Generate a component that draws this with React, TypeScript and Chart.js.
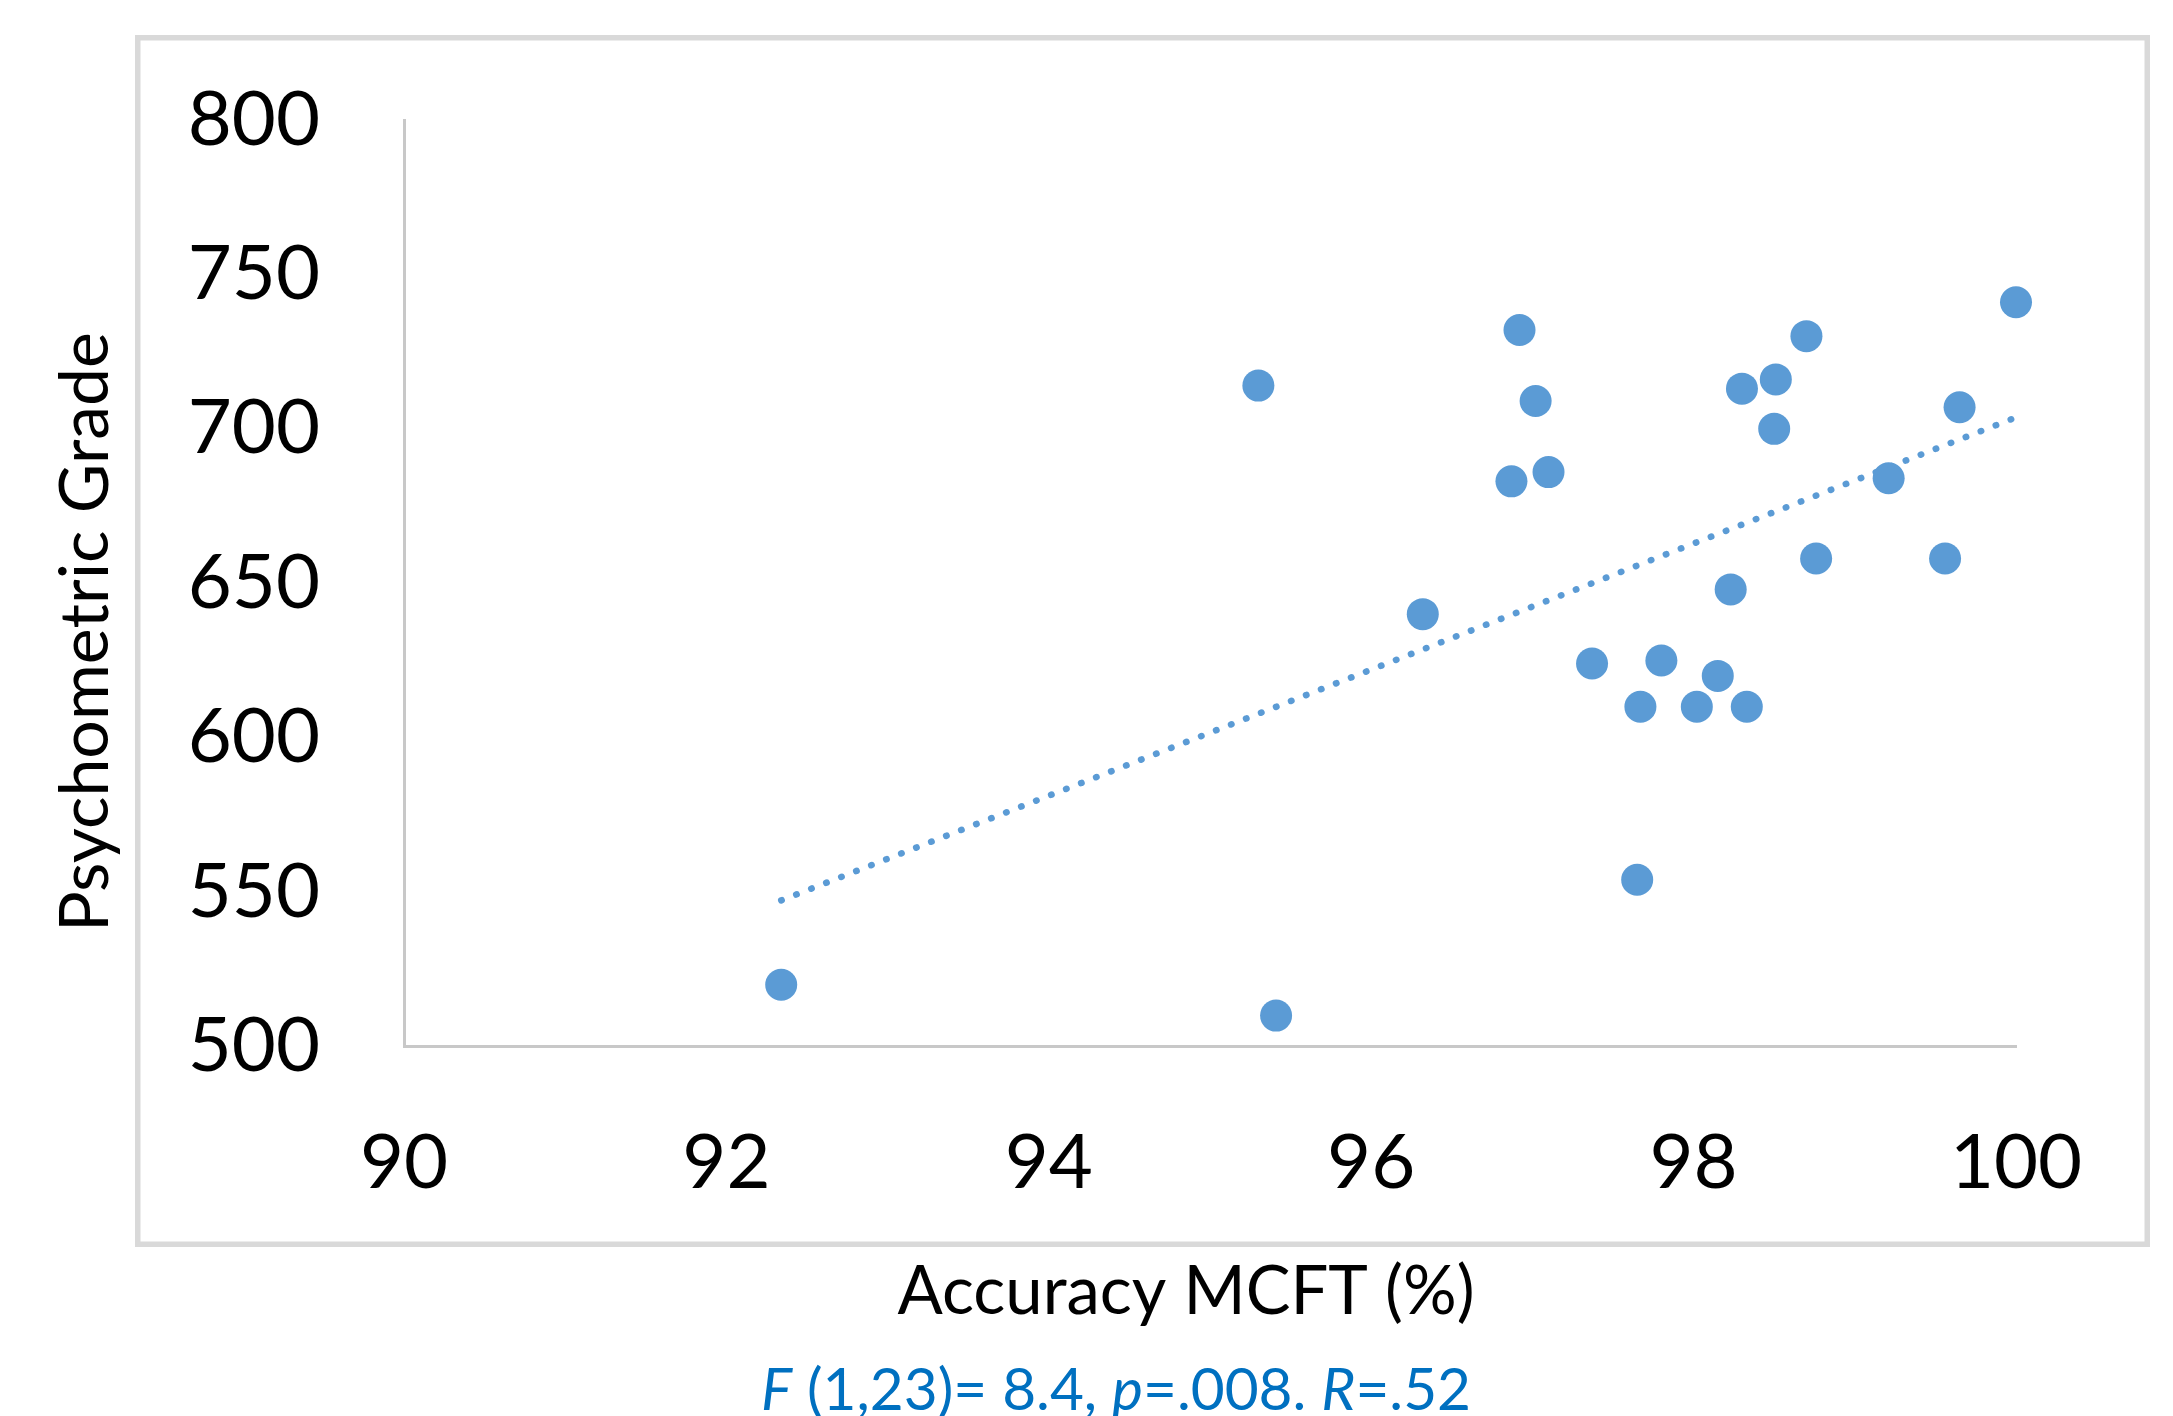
import { useEffect, useRef } from "react";
import { Chart, registerables } from "chart.js";

Chart.register(...registerables);

// ---- data ----
const accuracy = [
  92.34, 95.41, 95.3, 96.32, 96.92, 97.02, 96.87, 97.1, 97.37, 97.67, 97.65, 97.8, 98.02,
  98.15, 98.33, 98.23, 98.3, 98.51, 98.5, 98.7, 98.76, 99.21, 99.56, 99.65, 100.0,
];
const grade = [
  520, 510, 714, 640, 732, 709, 683, 686, 624, 610, 554, 625, 610,
  620, 610, 648, 713, 716, 700, 730, 658, 684, 658, 707, 741,
];
const xTicks = [90, 92, 94, 96, 98, 100];
const yTicks = [500, 550, 600, 650, 700, 750, 800];
const xTitle = "Accuracy MCFT (%)";
const yTitle = "Psychometric Grade";
const statParts: [string, boolean][] = [
  ["F", true],
  [" (1,23)= 8.4, ", false],
  ["p", true],
  ["=.008. ", false],
  ["R", true],
  ["=.52", false],
];

// least-squares trendline derived from the data
function trend() {
  const n = accuracy.length;
  const mx = accuracy.reduce((a, b) => a + b, 0) / n;
  const my = grade.reduce((a, b) => a + b, 0) / n;
  let sxy = 0;
  let sxx = 0;
  for (let i = 0; i < n; i++) {
    sxy += (accuracy[i] - mx) * (grade[i] - my);
    sxx += (accuracy[i] - mx) ** 2;
  }
  const slope = sxy / sxx;
  const x0 = Math.min(...accuracy);
  const x1 = Math.max(...accuracy);
  return [
    { x: x0, y: my + slope * (x0 - mx) },
    { x: x1, y: my + slope * (x1 - mx) },
  ];
}

const BLUE = "#5B9BD5";
const FONT = "Lato";

const decor = {
  id: "decor",
  beforeDraw(chart: any) {
    const ctx = chart.ctx;
    ctx.save();
    ctx.strokeStyle = "#d9d9d9";
    ctx.lineWidth = 5.5;
    ctx.strokeRect(137.75, 37.75, 2147.25 - 137.75, 1244.25 - 37.75);
    ctx.restore();
  },
  afterDraw(chart: any) {
    const ctx = chart.ctx;
    ctx.save();
    ctx.fillStyle = "#000000";
    ctx.textBaseline = "alphabetic";
    ctx.textAlign = "center";
    ctx.font = `67px ${FONT}`;
    ctx.fillText(xTitle, 1186, 1314);

    ctx.save();
    ctx.font = `68px ${FONT}`;
    ctx.translate(108, 632);
    ctx.rotate(-Math.PI / 2);
    ctx.fillText(yTitle, 0, 0);
    ctx.restore();

    // statistics line, mixed italic
    ctx.fillStyle = "#0070C0";
    ctx.textAlign = "left";
    const size = 58.5;
    const fontFor = (it: boolean) => `${it ? "italic " : ""}${size}px ${FONT}`;
    let total = 0;
    for (const [t, it] of statParts) {
      ctx.font = fontFor(it);
      total += ctx.measureText(t).width;
    }
    let x = 1116 - total / 2;
    for (const [t, it] of statParts) {
      ctx.font = fontFor(it);
      ctx.fillText(t, x, 1410);
      x += ctx.measureText(t).width;
    }
    ctx.restore();
  },
};

export default function App() {
  const ref = useRef<HTMLCanvasElement | null>(null);

  useEffect(() => {
    if (!ref.current) return;
    const chart = new Chart(ref.current, {
      type: "scatter",
      data: {
        datasets: [
          {
            label: "Trend",
            data: trend(),
            showLine: true,
            borderColor: BLUE,
            borderWidth: 6.5,
            borderDash: [0.5, 15.6],
            borderCapStyle: "round",
            pointRadius: 0,
            fill: false,
            clip: false,
          },
          {
            label: "Participants",
            data: accuracy.map((x, i) => ({ x, y: grade[i] })),
            backgroundColor: BLUE,
            borderWidth: 0,
            pointRadius: 16,
            pointHoverRadius: 16,
            clip: false,
          },
        ],
      },
      options: {
        responsive: false,
        animation: false,
        devicePixelRatio: 1,
        layout: { padding: { left: 0, right: 157, top: 120, bottom: 0 } },
        plugins: {
          legend: { display: false },
          tooltip: { enabled: false },
          title: { display: false },
        },
        scales: {
          x: {
            type: "linear",
            min: 90,
            max: 100,
            afterBuildTicks: (s: any) => {
              s.ticks = xTicks.map((v) => ({ value: v }));
            },
            afterFit: (s: any) => {
              s.height = 369.5;
              s.paddingLeft = 0;
              s.paddingRight = 0;
            },
            grid: { display: false, drawTicks: false },
            border: { display: true, color: "#c8c8c8", width: 3 },
            ticks: {
              padding: 71,
              color: "#000000",
              font: { family: FONT, size: 76 },
              maxRotation: 0,
              autoSkip: false,
            },
          },
          y: {
            type: "linear",
            min: 500,
            max: 800,
            afterBuildTicks: (s: any) => {
              s.ticks = yTicks.map((v) => ({ value: v }));
            },
            afterFit: (s: any) => {
              s.width = 404;
              s.paddingTop = 0;
              s.paddingBottom = 0;
            },
            grid: { display: false, drawTicks: false },
            border: { display: true, color: "#c8c8c8", width: 3 },
            ticks: {
              padding: 84,
              color: "#000000",
              font: { family: FONT, size: 76 },
              autoSkip: false,
            },
          },
        },
      },
      plugins: [decor],
    });
    return () => chart.destroy();
  }, []);

  return (
    <div
      style={{
        position: "fixed",
        left: 0,
        top: 0,
        width: 2173,
        height: 1416,
        background: "#ffffff",
      }}
    >
      <canvas ref={ref} width={2173} height={1416} />
    </div>
  );
}
